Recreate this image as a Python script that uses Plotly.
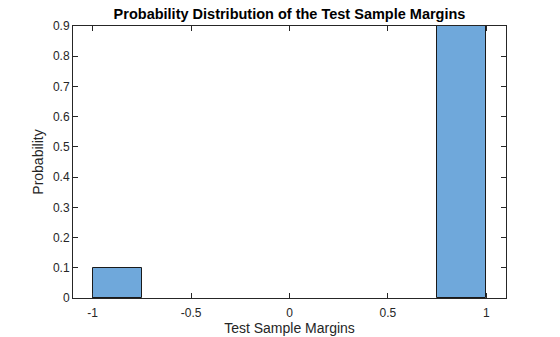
import plotly.graph_objects as go

bin_edges = [-1.0, -0.75, -0.5, -0.25, 0.0, 0.25, 0.5, 0.75, 1.0]
probabilities = [0.1, 0.0, 0.0, 0.0, 0.0, 0.0, 0.0, 0.9]
x_ticks = [-1, -0.5, 0, 0.5, 1]
x_tick_labels = ["-1", "-0.5", "0", "0.5", "1"]
y_ticks = [0, 0.1, 0.2, 0.3, 0.4, 0.5, 0.6, 0.7, 0.8, 0.9]
y_tick_labels = ["0", "0.1", "0.2", "0.3", "0.4", "0.5", "0.6", "0.7", "0.8", "0.9"]

centers = [(a + b) / 2 for a, b in zip(bin_edges[:-1], bin_edges[1:])]
widths = [b - a for a, b in zip(bin_edges[:-1], bin_edges[1:])]
edge_widths = [1 if p > 0 else 0 for p in probabilities]

fig = go.Figure()
fig.add_trace(go.Bar(
    x=centers, y=probabilities, width=widths,
    marker=dict(color="rgb(111,168,219)", line=dict(color="#1a1a1a", width=edge_widths)),
    showlegend=False, hoverinfo="x+y",
))

font = "Liberation Sans, Arial, Helvetica, sans-serif"
axis_common = dict(
    showline=True, linecolor="#262626", linewidth=1, mirror="ticks",
    ticks="inside", ticklen=5, tickcolor="#262626", tickwidth=1,
    showgrid=False, zeroline=False, automargin=False,
    tickfont=dict(family=font, size=12, color="#262626"),
)

fig.update_layout(
    width=560, height=337,
    margin=dict(l=73, r=54, t=26, b=39),
    paper_bgcolor="white", plot_bgcolor="white",
    bargap=0,
    title=dict(text="<b>Probability Distribution of the Test Sample Margins</b>",
               x=0.517, xanchor="center", y=1 - 13.5 / 337, yanchor="middle",
               font=dict(family=font, size=14.5, color="black")),
    xaxis=dict(range=[-1.1, 1.1], tickvals=x_ticks, ticktext=x_tick_labels,
               ticklabelstandoff=4,
               title=dict(text="Test Sample Margins", standoff=0,
                          font=dict(family=font, size=14, color="#262626")),
               **axis_common),
    yaxis=dict(range=[0, 0.9], tickvals=y_ticks, ticktext=y_tick_labels,
               title=dict(text="Probability", standoff=6,
                          font=dict(family=font, size=14, color="#262626")),
               **axis_common),
)

fig.write_html("out.html")
